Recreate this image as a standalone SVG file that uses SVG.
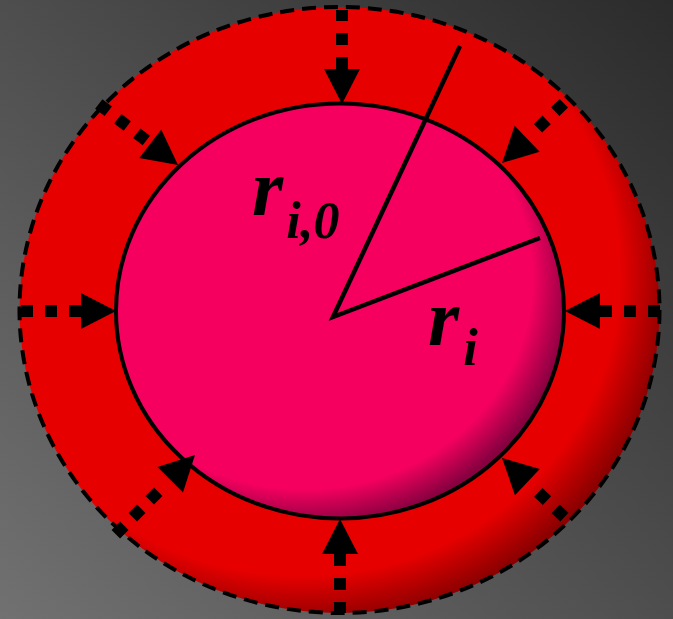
<svg xmlns="http://www.w3.org/2000/svg" width="673" height="619" viewBox="0 0 673 619">
<defs>
<linearGradient id="bg" x1="0" y1="1" x2="1" y2="0">
<stop offset="0" stop-color="#717171"/>
<stop offset="1" stop-color="#2b2b2b"/>
</linearGradient>
<radialGradient id="ring" cx="0.44" cy="0.44" r="0.58">
<stop offset="0" stop-color="#e60000"/>
<stop offset="0.86" stop-color="#e60000"/>
<stop offset="1" stop-color="#8a0000"/>
</radialGradient>
<radialGradient id="core" cx="0.42" cy="0.42" r="0.6">
<stop offset="0" stop-color="#f5005f"/>
<stop offset="0.85" stop-color="#f5005f"/>
<stop offset="1" stop-color="#880040"/>
</radialGradient>
<style>
.dl{fill:none;stroke:#000;stroke-width:12;stroke-dasharray:12 12}
.hd{fill:#000}
.lbl{font-family:"Liberation Serif","Times New Roman",serif;font-weight:bold;font-style:italic;fill:#000}
.rad{stroke:#000;stroke-width:4.5;fill:none;stroke-linecap:butt}
</style>
</defs>
<rect id="background" x="0" y="0" width="673" height="619" fill="url(#bg)"/>
<g id="outer-layer">
<ellipse cx="339.5" cy="310" rx="320" ry="303" fill="url(#ring)" stroke="#000" stroke-width="4" stroke-dasharray="14 8"/>
</g>
<g id="inner-sphere">
<ellipse cx="340" cy="311" rx="224" ry="207.5" fill="url(#core)" stroke="#000" stroke-width="4"/>
</g>
<g id="radii">
<polyline class="rad" points="460,46 333,317 540,238"/>
</g>
<g id="label-ri0">
<text class="lbl" x="252" y="215" font-size="80">r<tspan font-size="52" dx="3" dy="23">i,0</tspan></text>
</g>
<g id="label-ri">
<text class="lbl" x="428" y="345" font-size="80">r<tspan font-size="52" dx="4" dy="20">i</tspan></text>
</g>
<g id="connectors">
<g id="arrow-top" transform="translate(342,104) rotate(90)"><path class="dl" d="M-35,0H-94"/><polygon class="hd" points="0,0 -35,-18 -35,18"/></g>
<g id="arrow-bottom" transform="translate(340,519) rotate(-90)"><path class="dl" d="M-35,0H-94"/><polygon class="hd" points="0,0 -35,-18 -35,18"/></g>
<g id="arrow-left" transform="translate(116,311)"><path class="dl" d="M-35,0H-98"/><polygon class="hd" points="0,0 -35,-18 -35,18"/></g>
<g id="arrow-right" transform="translate(565,311) rotate(180)"><path class="dl" d="M-35,0H-95"/><polygon class="hd" points="0,0 -35,-18 -35,18"/></g>
<g id="arrow-top-left" transform="translate(178,165) rotate(37.6)"><path class="dl" d="M-40,0H-102"/><polygon class="hd" points="0,0 -35,-18 -35,18"/></g>
<g id="arrow-top-right" transform="translate(502,163) rotate(136)"><path class="dl" d="M-50,0H-90"/><polygon class="hd" points="0,0 -35,-18 -35,18"/></g>
<g id="arrow-bottom-right" transform="translate(502,458) rotate(-136.5)"><path class="dl" d="M-50,0H-90"/><polygon class="hd" points="0,0 -35,-18 -35,18"/></g>
<g id="arrow-bottom-left" transform="translate(195,455) rotate(-45)"><path class="dl" d="M-52,0H-112"/><polygon class="hd" points="0,0 -35,-18 -35,18"/></g>
</g>
</svg>
